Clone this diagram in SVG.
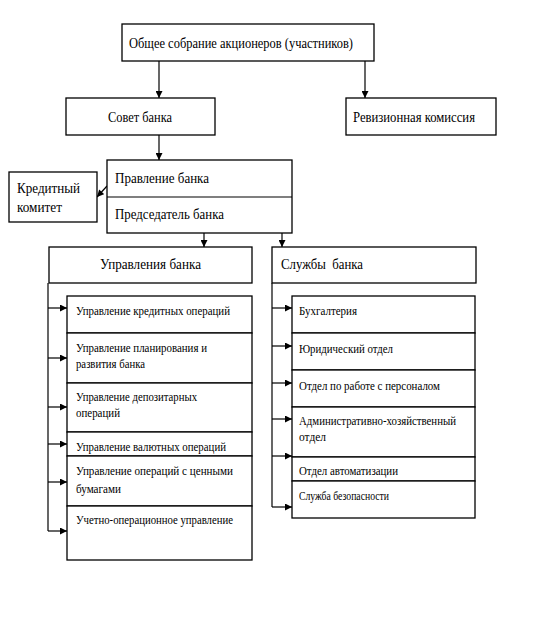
<svg xmlns="http://www.w3.org/2000/svg" width="543" height="630" viewBox="0 0 543 630">
<style>
.b{fill:#fff;stroke:#000;stroke-width:1.3}
.l{fill:none;stroke:#000;stroke-width:1.2}
.t{font-family:"Liberation Serif",serif;font-size:14.5px;fill:#000}
.s{font-family:"Liberation Serif",serif;font-size:12px;fill:#000}
</style>
<defs>
<marker id="a" viewBox="0 0 8 8" refX="8" refY="4" markerWidth="8" markerHeight="7" markerUnits="userSpaceOnUse" orient="auto">
<path d="M0,0L8,4L0,8Z" fill="#000"/>
</marker>
</defs>
<rect width="543" height="630" fill="#fff"/>
<g id="connectors">
<line class="l" x1="159" y1="61" x2="159" y2="98" marker-end="url(#a)"/>
<line class="l" x1="365" y1="61" x2="365" y2="98" marker-end="url(#a)"/>
<line class="l" x1="159" y1="135" x2="159" y2="160" marker-end="url(#a)"/>
<line class="l" x1="107" y1="186" x2="97" y2="197" marker-end="url(#a)"/>
<line class="l" x1="204" y1="233" x2="204" y2="247" marker-end="url(#a)"/>
<line class="l" x1="282" y1="233" x2="282" y2="247" marker-end="url(#a)"/>
<polyline class="l" points="48,283 48,531"/>
<line class="l" x1="48" y1="308" x2="67" y2="308" marker-end="url(#a)"/>
<line class="l" x1="48" y1="358" x2="67" y2="358" marker-end="url(#a)"/>
<line class="l" x1="48" y1="407" x2="67" y2="407" marker-end="url(#a)"/>
<line class="l" x1="48" y1="444" x2="67" y2="444" marker-end="url(#a)"/>
<line class="l" x1="48" y1="482" x2="67" y2="482" marker-end="url(#a)"/>
<line class="l" x1="48" y1="531" x2="67" y2="531" marker-end="url(#a)"/>
<polyline class="l" points="272,283 272,507"/>
<line class="l" x1="272" y1="308" x2="292" y2="308" marker-end="url(#a)"/>
<line class="l" x1="272" y1="346" x2="292" y2="346" marker-end="url(#a)"/>
<line class="l" x1="272" y1="383" x2="292" y2="383" marker-end="url(#a)"/>
<line class="l" x1="272" y1="419" x2="292" y2="419" marker-end="url(#a)"/>
<line class="l" x1="272" y1="456" x2="292" y2="456" marker-end="url(#a)"/>
<line class="l" x1="272" y1="507" x2="292" y2="507" marker-end="url(#a)"/>
</g>
<g id="obshchee">
<rect class="b" x="122" y="24" width="252" height="37"/>
<text class="t" x="129" y="48" textLength="224" lengthAdjust="spacingAndGlyphs">Общее собрание акционеров (участников)</text>
</g>
<g id="sovet">
<rect class="b" x="66" y="98" width="149" height="37"/>
<text class="t" x="108" y="122" textLength="64" lengthAdjust="spacingAndGlyphs">Совет банка</text>
</g>
<g id="revizion">
<rect class="b" x="346" y="98" width="150" height="37"/>
<text class="t" x="353" y="122" textLength="122" lengthAdjust="spacingAndGlyphs">Ревизионная комиссия</text>
</g>
<g id="pravlenie">
<rect class="b" x="107" y="160" width="185" height="73"/>
<line class="l" x1="107" y1="197" x2="292" y2="197"/>
<text class="t" x="115" y="183" textLength="94" lengthAdjust="spacingAndGlyphs">Правление банка</text>
<text class="t" x="115" y="219" textLength="109" lengthAdjust="spacingAndGlyphs">Председатель банка</text>
</g>
<g id="kredit">
<rect class="b" x="9" y="172" width="88" height="50"/>
<text class="t" x="17" y="193" textLength="63" lengthAdjust="spacingAndGlyphs">Кредитный</text>
<text class="t" x="17" y="212" textLength="45" lengthAdjust="spacingAndGlyphs">комитет</text>
</g>
<g id="upravleniya">
<rect class="b" x="49" y="247" width="203" height="36"/>
<text class="t" x="100" y="269" textLength="101" lengthAdjust="spacingAndGlyphs">Управления банка</text>
</g>
<g id="sluzhby">
<rect class="b" x="272" y="247" width="204" height="36"/>
<text class="t" x="281" y="269" xml:space="preserve" textLength="82" lengthAdjust="spacingAndGlyphs">Службы  банка</text>
</g>
<g id="left-units">
<rect class="b" x="67" y="296" width="185" height="37"/>
<text class="s" x="76" y="315" textLength="154" lengthAdjust="spacingAndGlyphs">Управление кредитных операций</text>
<rect class="b" x="67" y="333" width="185" height="50"/>
<text class="s" x="76" y="352" textLength="131" lengthAdjust="spacingAndGlyphs">Управление планирования и</text>
<text class="s" x="76" y="368" textLength="69" lengthAdjust="spacingAndGlyphs">развития банка</text>
<rect class="b" x="67" y="383" width="185" height="49"/>
<text class="s" x="76" y="401" textLength="121" lengthAdjust="spacingAndGlyphs">Управление депозитарных</text>
<text class="s" x="76" y="417" textLength="44" lengthAdjust="spacingAndGlyphs">операций</text>
<rect class="b" x="67" y="432" width="185" height="24"/>
<text class="s" x="76" y="451" textLength="150" lengthAdjust="spacingAndGlyphs">Управление валютных операций</text>
<rect class="b" x="67" y="456" width="185" height="50"/>
<text class="s" x="76" y="475" textLength="157" lengthAdjust="spacingAndGlyphs">Управление операций с ценными</text>
<text class="s" x="76" y="493" textLength="45" lengthAdjust="spacingAndGlyphs">бумагами</text>
<rect class="b" x="67" y="506" width="185" height="54"/>
<text class="s" x="76" y="524" textLength="157" lengthAdjust="spacingAndGlyphs">Учетно-операционное управление</text>
</g>
<g id="right-units">
<rect class="b" x="292" y="296" width="183" height="37"/>
<text class="s" x="299" y="315" textLength="58" lengthAdjust="spacingAndGlyphs">Бухгалтерия</text>
<rect class="b" x="292" y="333" width="183" height="37"/>
<text class="s" x="299" y="353" textLength="94" lengthAdjust="spacingAndGlyphs">Юридический отдел</text>
<rect class="b" x="292" y="370" width="183" height="37"/>
<text class="s" x="299" y="390" textLength="141" lengthAdjust="spacingAndGlyphs">Отдел по работе с персоналом</text>
<rect class="b" x="292" y="407" width="183" height="50"/>
<text class="s" x="299" y="425" textLength="157" lengthAdjust="spacingAndGlyphs">Административно-хозяйственный</text>
<text class="s" x="299" y="441" textLength="27" lengthAdjust="spacingAndGlyphs">отдел</text>
<rect class="b" x="292" y="457" width="183" height="24"/>
<text class="s" x="299" y="475" textLength="99" lengthAdjust="spacingAndGlyphs">Отдел автоматизации</text>
<rect class="b" x="292" y="481" width="183" height="37"/>
<text class="s" x="299" y="500" textLength="90" lengthAdjust="spacingAndGlyphs">Служба безопасности</text>
</g>
</svg>
